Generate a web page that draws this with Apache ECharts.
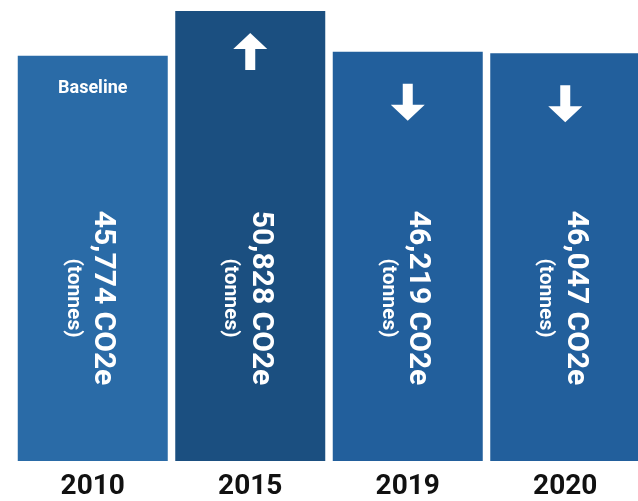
<!DOCTYPE html>
<html>
<head>
<meta charset="utf-8">
<script src="https://cdn.jsdelivr.net/npm/echarts@6/dist/echarts.min.js"></script>
<style>
html,body{margin:0;padding:0;background:#fff;overflow:hidden;}
#wrap{width:638px;height:501px;overflow:hidden;}
#chart{width:645px;height:501px;}
</style>
</head>
<body>
<div id="wrap"><div id="chart"></div></div>
<script>
// ---- data ----
const years = ['2010', '2015', '2019', '2020'];
const emissions = [45774, 50828, 46219, 46047];
const trend = ['baseline', 'up', 'down', 'down'];
const unitLabel = '(tonnes)';
const unitSuffix = 'CO2e';
const baselineText = 'Baseline';
const barColors = ['#2a6ba7', '#1b4f80', '#225f9c', '#225f9c'];

// ---- styles ----
const UP_PATH = 'path://M17 0 L34 16 L22 16 L22 37 L12 37 L12 16 L0 16 Z';
const DOWN_PATH = 'path://M12 0 L22 0 L22 21 L34 21 L17 37 L0 21 L12 21 Z';
const arrowStyle = {
  up: { symbol: UP_PATH, offset: 22 },
  down: { symbol: DOWN_PATH, offset: 32 }
};
const FONT = 'Roboto';

const chart = echarts.init(document.getElementById('chart'));

const fmt = v => v.toLocaleString('en-US');

const mainData = emissions.map((v, i) => ({
  value: v,
  itemStyle: { color: barColors[i] }
}));

const baselineData = emissions.map((v, i) => trend[i] === 'baseline' ? v : '-');

const arrowData = emissions.map((v, i) => {
  const s = arrowStyle[trend[i]];
  if (!s) return '-';
  return { value: v, symbol: s.symbol, symbolOffset: [0, s.offset] };
});

chart.setOption({
  animation: false,
  grid: { left: 14, top: 11, width: 630, bottom: 40, containLabel: false },
  xAxis: {
    type: 'category',
    data: years,
    axisLine: { show: false },
    axisTick: { show: false },
    axisLabel: {
      color: '#111',
      fontFamily: FONT,
      fontWeight: 'bold',
      fontSize: 28,
      margin: 12
    }
  },
  yAxis: {
    type: 'value',
    min: 0,
    max: Math.max(...emissions),
    show: false,
    splitLine: { show: false }
  },
  series: [
    {
      type: 'bar',
      data: mainData,
      barWidth: 150,
      barGap: '-100%',
      label: {
        show: true,
        position: 'insideBottom',
        distance: 163,
        rotate: -90,
        align: 'center',
        verticalAlign: 'middle',
        formatter: p => '{a|' + fmt(p.value) + ' ' + unitSuffix + '}\n{b|' + unitLabel + '}',
        rich: {
          a: { color: '#fff', fontFamily: FONT, fontWeight: 'bold', fontSize: 30, lineHeight: 40, align: 'center' },
          b: { color: '#fff', fontFamily: FONT, fontWeight: 'bold', fontSize: 21, lineHeight: 20, align: 'center' }
        }
      }
    },
    {
      type: 'bar',
      data: baselineData,
      barWidth: 150,
      barGap: '-100%',
      silent: true,
      itemStyle: { color: 'rgba(0,0,0,0)' },
      label: {
        show: true,
        position: 'insideTop',
        distance: 24,
        formatter: baselineText,
        color: '#fff',
        fontFamily: FONT,
        fontWeight: 'bold',
        fontSize: 18
      }
    },
    {
      type: 'pictorialBar',
      data: arrowData,
      symbolPosition: 'end',
      symbolSize: [34, 37],
      symbolRepeat: false,
      silent: true,
      z: 5,
      itemStyle: { color: '#fff' }
    }
  ]
});
</script>
</body>
</html>
